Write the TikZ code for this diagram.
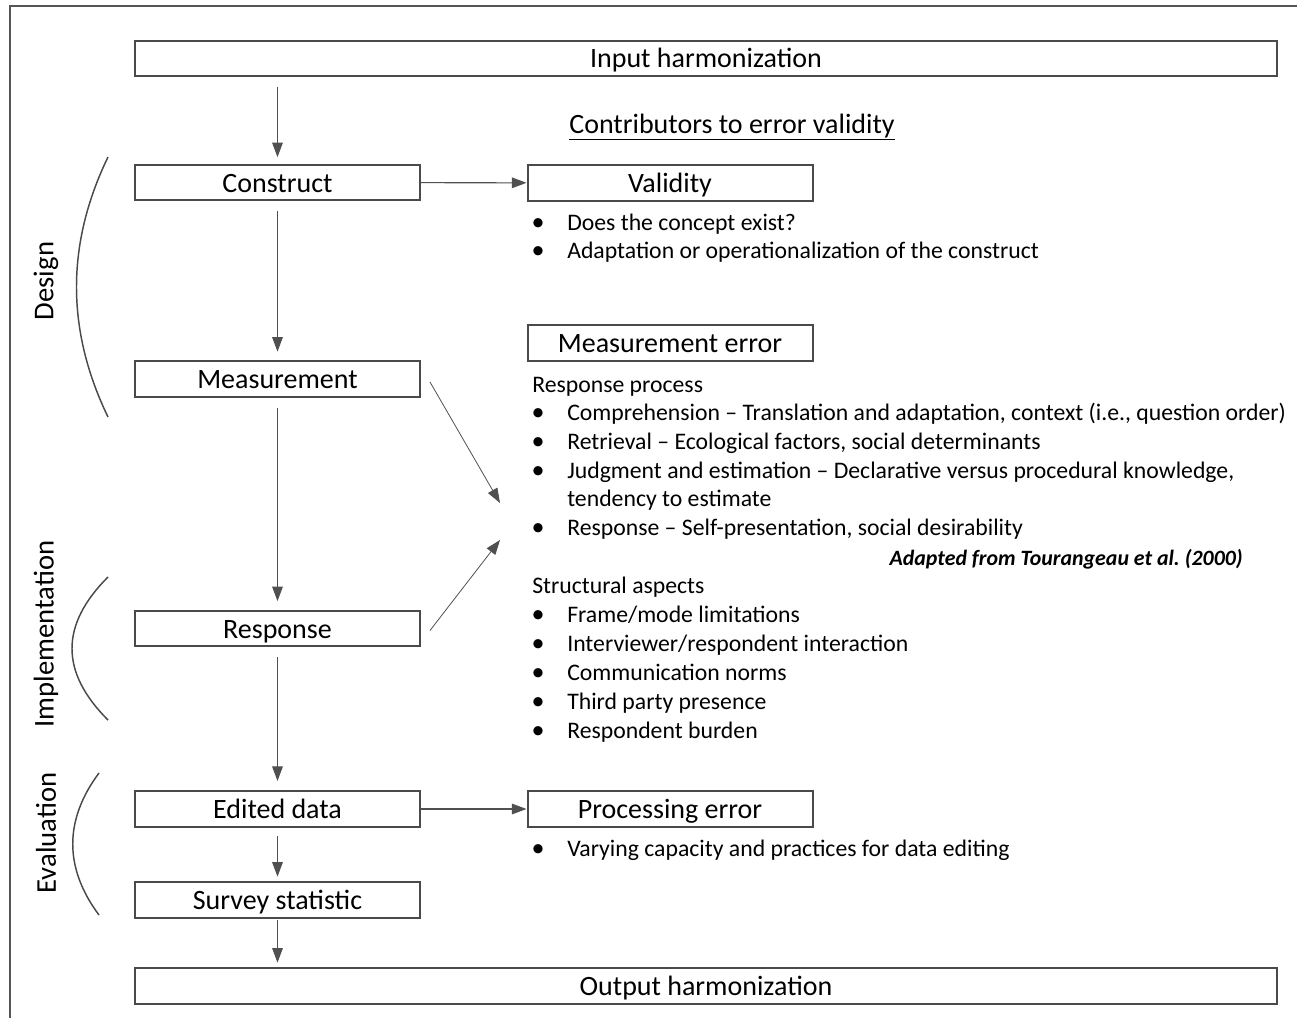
\documentclass[tikz,border=0pt]{standalone}
\usepackage{fontspec}
\setmainfont{Carlito}
\usetikzlibrary{arrows.meta,calc}

\definecolor{boxline}{HTML}{4A4A4A}
\definecolor{connline}{HTML}{505050}
\definecolor{frameline}{HTML}{555555}

\begin{document}
\begin{tikzpicture}[x=0.75pt,y=-0.75pt,
  box/.style={draw=boxline, line width=1.5pt, inner sep=0pt, minimum height=26.5pt,
    text height=16.5pt, text depth=2pt, font=\fontsize{21}{25}\selectfont},
  narrowbox/.style={box, minimum width=213.75pt},
  widebox/.style={box, minimum width=856.5pt},
  conn/.style={draw=connline, line width=0.8pt, -{Triangle[length=11pt,width=8pt]}},
  bracket/.style={draw=boxline, line width=1.1pt},
  phase/.style={rotate=90, font=\fontsize{21.5}{25}\selectfont},
  item/.style={anchor=base west, inner sep=0pt, font=\fontsize{17.8}{21}\selectfont},
  dot/.style={anchor=base, inner sep=0pt, font=\fontsize{19.5}{21}\selectfont},
  cite/.style={anchor=base east, inner sep=0pt, font=\fontsize{16.4}{19}\selectfont\bfseries\itshape}
]
\useasboundingbox (0,0) rectangle (1297,1018);
\clip (0,0) rectangle (1297,1018);

% outer frame, running off the right and bottom edges
\draw[frameline, line width=1.5pt] (10,1040) -- (10,6) -- (1320,6);

% main chain of boxes
\node[widebox]   (input)    at (706,58.3)   {Input harmonization};
\node[narrowbox] (construct) at (277.5,182.5) {Construct};
\node[narrowbox] (meas)     at (277.5,379)  {Measurement};
\node[narrowbox] (resp)     at (277.5,628.5) {Response};
\node[narrowbox] (edited)   at (277.5,809)  {Edited data};
\node[narrowbox] (survey)   at (277.5,900)  {Survey statistic};
\node[widebox]   (output)   at (706,986)    {Output harmonization};

% error sources
\node[narrowbox] (validity) at (670,183)   {Validity};
\node[narrowbox] (merr)     at (670,343)   {Measurement error};
\node[narrowbox] (procerr)  at (670,809)   {Processing error};

\node[anchor=base, inner sep=0pt, font=\fontsize{21}{25}\selectfont] (title) at (732,133)
  {\underline{Contributors to error validity}};

% vertical flow
\draw[conn, shorten <=7.5pt, shorten >=5pt]   (construct |- input.south) -- (construct.north);
\draw[conn, shorten <=7.5pt, shorten >=6.5pt] (construct) -- (meas);
\draw[conn, shorten <=7.5pt, shorten >=6.5pt] (meas) -- (resp);
\draw[conn, shorten <=7.5pt, shorten >=7pt]   (resp) -- (edited);
\draw[conn, shorten <=6.5pt, shorten >=3.5pt] (edited) -- (survey);
\draw[conn, shorten <=1pt, shorten >=3.5pt]   (survey.south) -- (survey |- output.north);

% horizontal links
\draw[conn] (construct) -- (validity);
\draw[conn] (edited) -- (procerr);

% links into the measurement error list
\coordinate (mtip) at (500,503);
\coordinate (rtip) at (500,540);
\draw[conn, line width=0.6pt] ($(meas.east)+(9,3)$) -- (mtip);
\draw[conn, line width=0.6pt] ($(resp.east)+(9,2)$) -- (rtip);

% phase brackets
\draw[bracket] (108,157) .. controls (66,244) and (66,330) .. (108,417);
\draw[bracket] (108,577) .. controls (60,625) and (60,672) .. (108,720);
\draw[bracket] (99,773) .. controls (64,820) and (64,868) .. (99,915);
\node[phase] (pdesign) at (46,281) {Design};
\node[phase] (pimpl)   at (46,634) {Implementation};
\node[phase] (peval)   at (46,833) {Evaluation};

% validity items
\node[dot] at (538,230) {•};
\node[item] at (567,230) {Does the concept exist?};
\node[dot] at (538,258.5) {•};
\node[item] at (567,258.5) {Adaptation or operationalization of the construct};

% measurement error items
\node[item] at (532,392) {Response process};
\node[dot] at (538,420.5) {•};
\node[item] at (567,420.5) {Comprehension – Translation and adaptation, context (i.e., question order)};
\node[dot] at (538,449) {•};
\node[item] at (567,449) {Retrieval – Ecological factors, social determinants};
\node[dot] at (538,478) {•};
\node[item] at (567,478) {Judgment and estimation – Declarative versus procedural knowledge,};
\node[item] at (567,506.5) {tendency to estimate};
\node[dot] at (538,535.5) {•};
\node[item] at (567,535.5) {Response – Self-presentation, social desirability};
\node[cite] at (1243,565) {Adapted from Tourangeau et al.~(2000)};
\node[item] at (532,593) {Structural aspects};
\node[dot] at (538,622) {•};
\node[item] at (567,622) {Frame/mode limitations};
\node[dot] at (538,651) {•};
\node[item] at (567,651) {Interviewer/respondent interaction};
\node[dot] at (538,680) {•};
\node[item] at (567,680) {Communication norms};
\node[dot] at (538,709) {•};
\node[item] at (567,709) {Third party presence};
\node[dot] at (538,738) {•};
\node[item] at (567,738) {Respondent burden};

% processing error item
\node[dot] at (538,856) {•};
\node[item] at (567,856) {Varying capacity and practices for data editing};
\end{tikzpicture}
\end{document}
